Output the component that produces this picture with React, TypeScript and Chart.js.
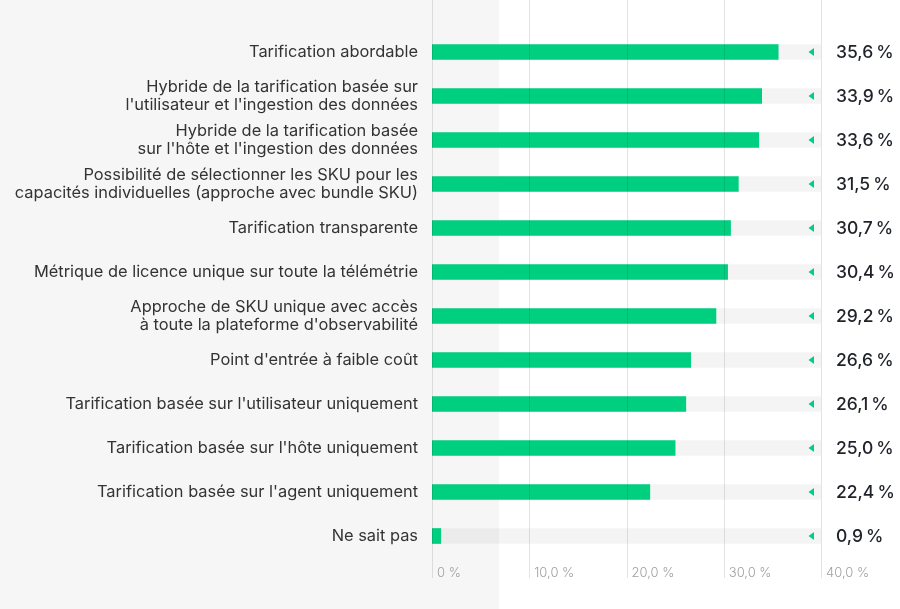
import React, { useEffect, useRef } from "react";
import { Chart, registerables } from "chart.js";

Chart.register(...registerables);

const categories: (string | string[])[] = [
  "Tarification abordable",
  ["Hybride de la tarification basée sur", "l'utilisateur et l'ingestion des données"],
  ["Hybride de la tarification basée", "sur l'hôte et l'ingestion des données"],
  ["Possibilité de sélectionner les SKU pour les", "capacités individuelles (approche avec bundle SKU)"],
  "Tarification transparente",
  "Métrique de licence unique sur toute la télémétrie",
  ["Approche de SKU unique avec accès", "à toute la plateforme d'observabilité"],
  "Point d'entrée à faible coût",
  "Tarification basée sur l'utilisateur uniquement",
  "Tarification basée sur l'hôte uniquement",
  "Tarification basée sur l'agent uniquement",
  "Ne sait pas",
];

const values: number[] = [35.6, 33.9, 33.6, 31.5, 30.7, 30.4, 29.2, 26.6, 26.1, 25.0, 22.4, 0.9];
const trackValues: number[] = values.map(() => 40);
const tickValues: number[] = [0, 10, 20, 30, 40];
const tickLabels: string[] = ["0 %", "10,0 %", "20,0 %", "30,0 %", "40,0 %"];

const FONT = "Inter, 'Noto Sans', sans-serif";

const fmt = (v: number) => v.toFixed(1).replace(".", ",") + "\u2009%";

const decorPlugin = {
  id: "decor",
  beforeDraw(chart: any) {
    const { ctx } = chart;
    ctx.save();
    ctx.fillStyle = "#f6f6f6";
    ctx.fillRect(0, 0, 499, chart.height);
    ctx.restore();
  },
  afterDatasetsDraw(chart: any) {
    const { ctx, chartArea } = chart;
    const x = chart.scales.x;
    const y = chart.scales.y;
    ctx.save();
    ctx.strokeStyle = "rgba(0,0,0,0.11)";
    ctx.lineWidth = 1;
    tickValues.forEach((t) => {
      const px = Math.round(x.getPixelForValue(t)) + 0.5;
      ctx.beginPath();
      ctx.moveTo(px, 0);
      ctx.lineTo(px, chartArea.bottom + 20);
      ctx.stroke();
    });
    ctx.fillStyle = "#a0a0a0";
    ctx.font = `300 13px ${FONT}`;
    ctx.textAlign = "left";
    ctx.textBaseline = "middle";
    tickValues.forEach((t, i) => {
      const px = x.getPixelForValue(t);
      ctx.fillText(tickLabels[i], px + 5, chartArea.bottom + 15);
    });
    values.forEach((v, i) => {
      const cy = y.getPixelForValue(i);
      const tx = x.getPixelForValue(40) - 9;
      ctx.fillStyle = "#00cf80";
      ctx.beginPath();
      ctx.moveTo(tx - 3.5, cy);
      ctx.lineTo(tx + 2, cy - 4);
      ctx.lineTo(tx + 2, cy + 4);
      ctx.closePath();
      ctx.fill();
      ctx.fillStyle = "#1f2329";
      ctx.font = `500 17.5px ${FONT}`;
      ctx.textAlign = "left";
      ctx.textBaseline = "middle";
      ctx.fillText(fmt(v), chartArea.right + 15, cy + 1);
    });
    ctx.restore();
  },
};

export default function App() {
  const ref = useRef<HTMLCanvasElement | null>(null);
  useEffect(() => {
    if (!ref.current) return;
    const chart = new Chart(ref.current, {
      type: "bar",
      data: {
        labels: categories,
        datasets: [
          {
            data: values,
            backgroundColor: "#00cf80",
            borderWidth: 0,
            barThickness: 15,
            grouped: false,
          },
          {
            data: trackValues,
            backgroundColor: "rgba(0,0,0,0.045)",
            borderWidth: 0,
            barThickness: 15,
            grouped: false,
          },
        ],
      },
      options: {
        indexAxis: "y",
        responsive: false,
        animation: false,
        maintainAspectRatio: false,
        layout: { padding: { top: 30, right: 79, left: 0, bottom: 0 } },
        plugins: { legend: { display: false }, tooltip: { enabled: false } },
        scales: {
          x: {
            min: 0,
            max: 40,
            ticks: { display: false, stepSize: 10 },
            grid: { display: false, drawTicks: false },
            border: { display: false },
            afterFit: (s: any) => {
              s.height = 51;
            },
          },
          y: {
            ticks: {
              color: "#333333",
              padding: 14,
              font: { family: FONT, size: 16.4, lineHeight: 1.07 },
            },
            grid: { display: false, drawTicks: false },
            border: { display: false },
            afterFit: (s: any) => {
              s.width = 432;
            },
          },
        },
      },
      plugins: [decorPlugin],
    } as any);
    return () => chart.destroy();
  }, []);
  return (
    <div style={{ position: "fixed", left: 0, top: 0, width: 900, height: 609, background: "#ffffff" }}>
      <canvas ref={ref} width={900} height={609} style={{ display: "block" }} />
    </div>
  );
}
